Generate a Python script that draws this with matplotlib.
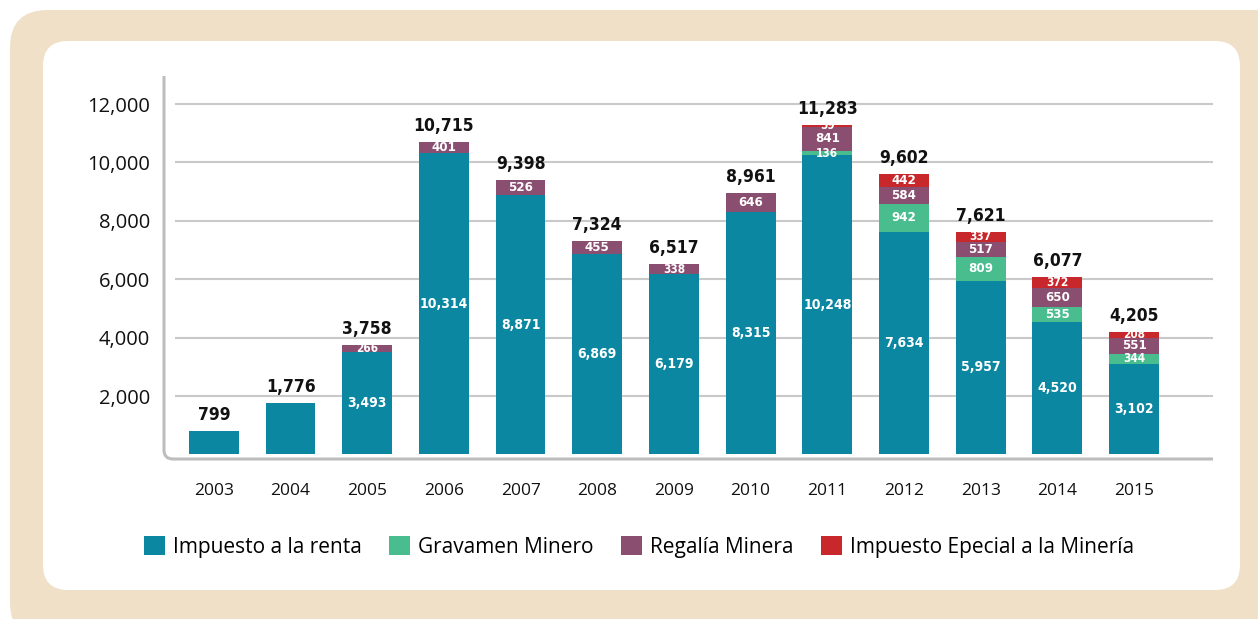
import matplotlib
matplotlib.use("Agg")
import matplotlib.pyplot as plt
from matplotlib import font_manager
from matplotlib.font_manager import FontProperties
from matplotlib.patches import FancyBboxPatch, Patch
from matplotlib.path import Path
from matplotlib.patches import PathPatch
import numpy as np

years = ["2003", "2004", "2005", "2006", "2007", "2008", "2009",
         "2010", "2011", "2012", "2013", "2014", "2015"]
renta = [799, 1776, 3493, 10314, 8871, 6869, 6179, 8315, 10248, 7634, 5957, 4520, 3102]
gravamen = [0, 0, 0, 0, 0, 0, 0, 0, 136, 942, 809, 535, 344]
regalia = [0, 0, 266, 401, 526, 455, 338, 646, 841, 584, 517, 650, 551]
iem = [0, 0, 0, 0, 0, 0, 0, 0, 59, 442, 337, 372, 208]
totals = [799, 1776, 3758, 10715, 9398, 7324, 6517, 8961, 11283, 9602, 7621, 6077, 4205]
series_names = ["Impuesto a la renta", "Gravamen Minero", "Regalía Minera",
                "Impuesto Epecial a la Minería"]
yticks = [2000, 4000, 6000, 8000, 10000, 12000]

colors = ["#0b87a1", "#4abd8f", "#8a4e70", "#c8282b"]
beige = "#f0e0c7"
grid_c = "#c9c9c9"

installed = {f.name for f in font_manager.fontManager.ttflist}
regular = "Open Sans" if "Open Sans" in installed else "DejaVu Sans"


def find_condensed_bold():
    pref = ["Liberation Sans Narrow", "Open Sans", "Noto Sans", "Roboto", "DejaVu Sans"]
    found = {}
    for f in font_manager.fontManager.ttflist:
        st = str(f.stretch)
        w = f.weight if isinstance(f.weight, int) else (700 if "bold" in str(f.weight) else 400)
        is_cond = st in ("condensed", "semi-condensed", "extra-condensed") or \
            "Condensed" in f.fname or "Narrow" in f.name
        if is_cond and 600 <= w <= 700 and "Italic" not in f.fname and f.style == "normal":
            found.setdefault(f.name, f.fname)
    for p in pref:
        if p in found:
            return found[p]
    if found:
        return list(found.values())[0]
    return None


cond_path = find_condensed_bold()


def bold_fp(size):
    if cond_path:
        return FontProperties(fname=cond_path, size=size)
    return FontProperties(family=regular, weight="bold", size=size)


fig = plt.figure(figsize=(12.58, 6.19), dpi=100)
W, H = 1258, 619


def fx(px):
    return px / W


def fy(py):
    return 1 - py / H


# outer beige panel
outer = FancyBboxPatch((fx(10), fy(640)), fx(1300) - fx(10), fy(10) - fy(640),
                       boxstyle="round,pad=0,rounding_size=0.03",
                       transform=fig.transFigure, facecolor=beige, edgecolor="none",
                       mutation_aspect=W / H, zorder=-2)
fig.patches.append(outer)
inner = FancyBboxPatch((fx(43), fy(590)), fx(1240) - fx(43), fy(41) - fy(590),
                       boxstyle="round,pad=0,rounding_size=0.02",
                       transform=fig.transFigure, facecolor="white", edgecolor="none",
                       mutation_aspect=W / H, zorder=-1)
fig.patches.append(inner)

ax = fig.add_axes([fx(164), fy(459), fx(1213) - fx(164), fy(76) - fy(459)])
ax.set_zorder(2)
ax.set_facecolor("none")
x = np.arange(len(years))
ax.set_xlim(-0.65, len(years) - 1 + 1.03)
ax.set_ylim(-155, 12960)

for s in ax.spines.values():
    s.set_visible(False)

# gridlines
for yt in yticks:
    ax.plot([-0.51, len(years) - 1 + 1.03], [yt, yt], color=grid_c, lw=1.5, zorder=0,
            solid_capstyle="butt")

# axis line with rounded corner
rx, ry = 9 / 1049, 9 / 383
verts = [(0, 1), (0, ry), (0, 0), (rx, 0), (1, 0)]
codes = [Path.MOVETO, Path.LINETO, Path.CURVE3, Path.CURVE3, Path.LINETO]
ax.add_patch(PathPatch(Path(verts, codes), transform=ax.transAxes, facecolor="none",
                       edgecolor="#bdbdbd", lw=2.2, clip_on=False, zorder=1))

width = 0.65
stack = [renta, gravamen, regalia, iem]
bottom = np.zeros(len(years))
for vals, c, name in zip(stack, colors, series_names):
    v = np.array(vals, dtype=float)
    ax.bar(x, v, width, bottom=bottom, color=c, label=name, zorder=2)
    for i, (b, val) in enumerate(zip(bottom, v)):
        if val > 0 and regalia[i] > 0:
            if val >= 1000:
                fs = 10
            elif val >= 400:
                fs = 9.5
            else:
                fs = 8.5
            ax.text(x[i], b + val / 2, f"{int(val):,}", ha="center", va="center",
                    color="white", fontproperties=bold_fp(fs), zorder=3)
    bottom += v

for i, t in enumerate(totals):
    ax.annotate(f"{t:,}", (x[i], bottom[i]), xytext=(0, 5), textcoords="offset points",
                ha="center", va="bottom", fontproperties=bold_fp(12.5), color="#111111")

ax.set_yticks(yticks)
ax.set_yticklabels([f"{v:,}" for v in yticks], family=regular, fontsize=14.5,
                   color="#111111")
ax.set_xticks(x)
ax.set_xticklabels(years, family=regular, fontsize=12.5, color="#111111")
ax.tick_params(axis="y", length=0, pad=10)
ax.tick_params(axis="x", length=0, pad=17)

handles = [Patch(facecolor=c, edgecolor="none") for c in colors]
fig.legend(handles, series_names, loc="center", bbox_to_anchor=(fx(639), fy(547)),
           ncol=4, frameon=False, prop={"family": regular, "size": 15},
           handlelength=1.0, handleheight=1.0, handletextpad=0.4, columnspacing=1.3)

fig.savefig("out.png", dpi=100)
